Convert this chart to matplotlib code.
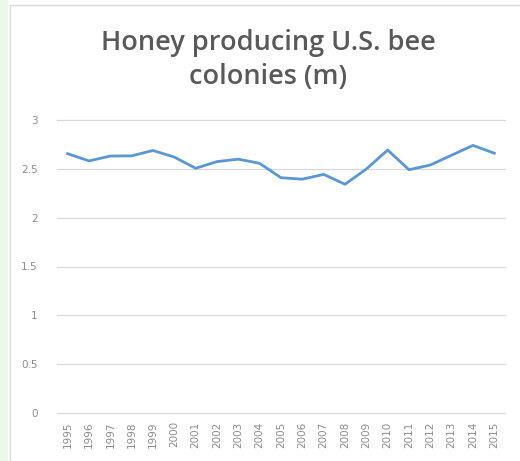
import matplotlib
matplotlib.use("Agg")
import matplotlib.pyplot as plt
from matplotlib.patches import Rectangle

years = list(range(1995, 2016))
colonies = [2.655, 2.581, 2.631, 2.633, 2.688, 2.620, 2.506, 2.574, 2.599, 2.556,
            2.409, 2.394, 2.443, 2.342, 2.498, 2.692, 2.491, 2.539, 2.640, 2.740, 2.660]
yticks = [0, 0.5, 1, 1.5, 2, 2.5, 3]
ytick_labels = ["0", "0.5", "1", "1.5", "2", "2.5", "3"]

fig = plt.figure(figsize=(5.2, 4.61), dpi=100)

# screenshot edge and chart frame (behind the axes)
fig.patches.append(Rectangle((0, 0), 8 / 520, 1, transform=fig.transFigure,
                             facecolor="#eef7ec", edgecolor="none", zorder=-2))
fig.patches.append(Rectangle((10 / 520, -0.01), 1.0, 1 - 5 / 461 + 0.01,
                             transform=fig.transFigure, facecolor="white",
                             edgecolor="#d9d9d9", linewidth=1.0, zorder=-1))

ax = fig.add_axes([57 / 520, 1 - 413 / 461, 448 / 520, 293 / 461])
ax.set_facecolor("none")
ax.plot(years, colonies, color="#5b97d3", linewidth=2.0, solid_joinstyle="round")

ax.set_xlim(1994.5, 2015.5)
ax.set_ylim(0, 3)
ax.set_yticks(yticks)
ax.set_yticklabels(ytick_labels)
ax.set_xticks(years)
ax.set_xticklabels([str(y) for y in years], rotation=90)
ax.tick_params(axis="both", length=0, colors="#8c8c8c", labelsize=7.5)
ax.tick_params(axis="y", pad=14)
ax.tick_params(axis="x", pad=6)
ax.grid(axis="y", color="#d9d9d9", linewidth=0.9)
for gl in ax.get_ygridlines():
    gl.set_clip_on(False)
ax.set_axisbelow(True)
for s in ax.spines.values():
    s.set_visible(False)

fig.text(268 / 520, 1 - 60 / 461, "Honey producing U.S. bee\ncolonies (m)",
         ha="center", va="center", fontsize=19.5, fontweight="semibold",
         family="Open Sans", color="#595959", linespacing=1.3)

fig.savefig("out.png", dpi=100)
